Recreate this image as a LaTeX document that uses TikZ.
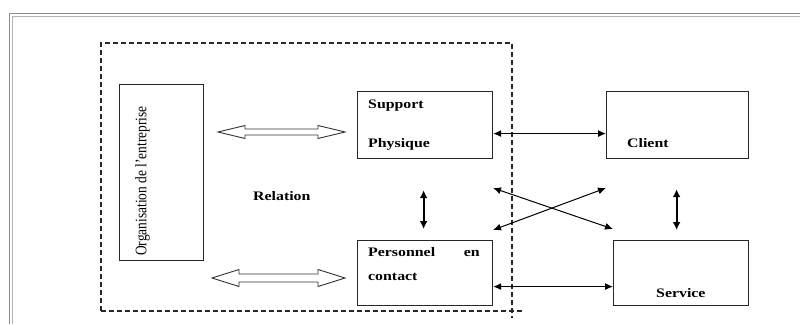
\documentclass[tikz,border=0pt]{standalone}
\usepackage{fontspec}
\setmainfont{Liberation Serif}
\newfontfamily\lblfont{Liberation Serif}[FakeStretch=1.22]
\usetikzlibrary{arrows.meta}
\tikzset{
  box/.style={draw=black!85, line width=1.2pt, anchor=north west, inner sep=0pt},
  lbl/.style={anchor=base west, inner sep=0pt, font=\lblfont\bfseries\fontsize{13}{15}\selectfont},
  conn/.style={line width=1pt, {Latex[length=8pt,width=7pt]}-{Latex[length=8pt,width=7pt]}},
  vconn/.style={line width=2pt, {Latex[length=8pt,width=8pt]}-{Latex[length=8pt,width=8pt]}},
  hollow/.style={draw=black!80, line width=0.9pt, fill=white, line join=miter},
  frameline/.style={draw=black!45, line width=1.3pt},
  dashbox/.style={draw=black!85, line width=1.2pt, dash pattern=on 5pt off 3pt}
}
\begin{document}
\begin{tikzpicture}[x=1pt,y=-1pt]
\useasboundingbox (0,0) rectangle (800,324);
% outer double frame
\draw[frameline] (800,13.5) -- (9.5,13.5) -- (9.5,324);
\draw[draw=black!30, line width=1pt] (800,16.8) -- (12.8,16.8) -- (12.8,324);
% dashed enclosure
\draw[dashbox] (101,311) -- (101,43) -- (512,43) -- (512,318);
\draw[dashbox] (101,311) -- (523,311);
% boxes
\node[box, minimum width=84, minimum height=176] (org) at (119,84) {};
\node[box, minimum width=135, minimum height=67] (sp) at (357,91) {};
\node[box, minimum width=135, minimum height=65] (pc) at (357,240) {};
\node[box, minimum width=142, minimum height=67] (cl) at (606,91) {};
\node[box, minimum width=135, minimum height=65] (sv) at (613,240) {};
% texts
\node[anchor=south west, inner sep=0pt, rotate=90] (orgt) at (150,256)
  {\scalebox{1}[1.2]{\fontsize{13.4}{15}\selectfont Organisation de l'entreprise}};
\node[lbl] (t1) at (368,108) {Support};
\node[lbl] (t2) at (368,147) {Physique};
\node[lbl] (t3) at (368,256) {Personnel};
\node[lbl, anchor=base east] (t4) at (480,256) {en};
\node[lbl] (t5) at (368,280) {contact};
\node[lbl] (t6) at (627,147) {Client};
\node[lbl] (t7) at (656,297) {Service};
\node[lbl] (rel) at (253,200) {Relation};
% hollow double arrows
\draw[hollow] (218,132) -- (245,125.5) -- (245,129) -- (318,129) -- (318,125.5) -- (345,132)
  -- (318,138.5) -- (318,135) -- (245,135) -- (245,138.5) -- cycle;
\draw[hollow] (212,278) -- (239,269.5) -- (239,274) -- (318,274) -- (318,269.5) -- (345,278)
  -- (318,286.5) -- (318,282) -- (239,282) -- (239,286.5) -- cycle;
% connectors
\draw[conn] ([yshift=-8.5pt]sp.east) -- ([yshift=-8.5pt]sp.east -| cl.west);
\draw[conn] ([yshift=-13.5pt]pc.east) -- ([yshift=-13.5pt]pc.east -| sv.west);
\draw[vconn, shorten <=31pt, shorten >=11pt] ([xshift=-1.5pt]sp.south) -- ([xshift=-1.5pt]pc.north);
\draw[vconn, shorten <=30pt, shorten >=10pt] ([xshift=-1pt]cl.south) -- ([xshift=-1pt]cl.south |- sv.north);
\coordinate (a1) at (493,188);
\coordinate (a2) at (613,229);
\coordinate (b1) at (493,230);
\coordinate (b2) at (606,188);
\draw[conn] (a1) -- (a2);
\draw[conn] (b1) -- (b2);
\end{tikzpicture}
\end{document}
